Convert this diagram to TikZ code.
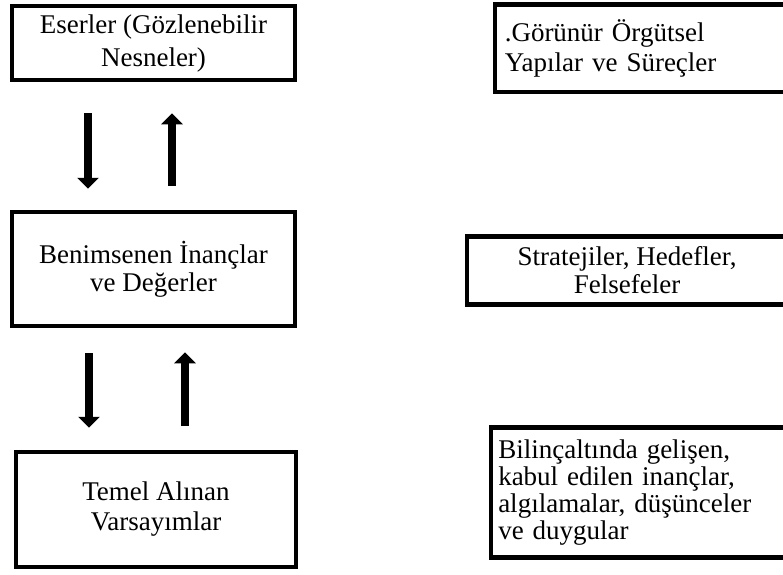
\documentclass[tikz,border=0pt]{standalone}
\usepackage{fontspec}
\setmainfont{Liberation Serif}
\usetikzlibrary{arrows.meta}
\begin{document}
\begin{tikzpicture}[x=1pt,y=-1pt,
  box/.style={draw=black, line width=4.5pt, rectangle, inner sep=0pt, fill=white},
  boxtext/.style={font=\fontsize{27}{#1}\selectfont},
  blockarrow/.style={line width=8pt, -{Triangle[width=21pt,length=11pt]}}]
\useasboundingbox (0,0) rectangle (783,574);
\fill[white] (0,0) rectangle (783,574);

% left column
\node[box, minimum width=283pt, minimum height=74pt, align=center,
      boxtext=33, text depth=4pt] (b1) at (153.5,43) {Eserler (Gözlenebilir\\Nesneler)};
\node[box, minimum width=283pt, minimum height=114pt, align=center,
      boxtext=28] (b3) at (153.5,269) {Benimsenen İnançlar\\ve Değerler};
\node[box, minimum width=280pt, minimum height=115pt, align=center,
      boxtext=30] (b6) at (156,509.5) {Temel Alınan\\Varsayımlar};

% right column
\node[box, anchor=north west, minimum width=310pt, minimum height=87.5pt,
      text width=290pt, align=left, boxtext=30, inner xsep=10pt] (b2) at (492.5,2)
      {.Görünür Örgütsel\\Yapılar ve Süreçler};
\node[box, minimum width=320pt, minimum height=68pt, align=center,
      boxtext=28] (b4) at (627,270.5) {Stratejiler, Hedefler,\\Felsefeler};
\node[box, anchor=south west, minimum width=310pt, minimum height=130pt,
      text width=295pt, align=left, boxtext=27, inner xsep=4pt] (b5) at (488.5,559.5)
      {Bilinçaltında gelişen,\\kabul edilen inançlar,\\algılamalar, düşünceler\\ve duygular};

% arrows between the levels
\draw[blockarrow, shorten <=31pt, shorten >=21pt] (88,0 |- b1.south) -- (88,0 |- b3.north);
\draw[blockarrow, shorten <=24pt, shorten >=31pt] (172,0 |- b3.north) -- (172,0 |- b1.south);
\draw[blockarrow, shorten <=25pt, shorten >=22pt] (89,0 |- b3.south) -- (89,0 |- b6.north);
\draw[blockarrow, shorten <=24pt, shorten >=24pt] (185,0 |- b6.north) -- (185,0 |- b3.south);
\end{tikzpicture}
\end{document}
